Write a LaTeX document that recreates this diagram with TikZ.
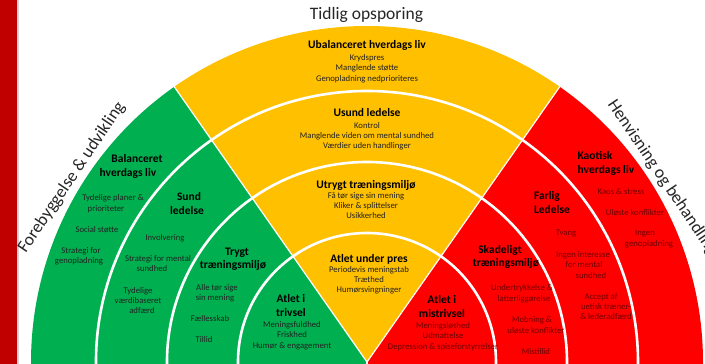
\documentclass[tikz,border=0pt]{standalone}
\usepackage{fontspec}
\setmainfont{Carlito}
\usetikzlibrary{calc,decorations.text}
\definecolor{grn}{HTML}{00B050}
\definecolor{yel}{HTML}{FFC000}
\definecolor{rd}{HTML}{FF0000}
\definecolor{barc}{HTML}{C00000}
\definecolor{detc}{HTML}{222222}
\definecolor{detr}{HTML}{6E0000}
\definecolor{sidec}{HTML}{262626}
\newcommand\sidefont{\fontsize{17.5}{20}\selectfont}
\tikzset{
  ttl/.style={font=\bfseries\fontsize{11.5}{13}\selectfont, anchor=base, inner sep=0pt, text=black},
  det/.style={font=\fontsize{8.7}{10}\selectfont, anchor=base, inner sep=0pt, text=detc},
  detr/.style={det, text=detr},
  side/.style={font=\sidefont, inner sep=0pt, text=sidec},
  sep/.style={white, line width=2.6pt},
  rad/.style={white, line width=1.2pt}
}
\newcommand\RTitle[4]{\node[ttl] (#1) at (#2,{360-#3}) {#4};}
\newcommand\RDet[4]{\node[det] (#1) at (#2,{361-#3}) {#4};}
\newcommand\RDetR[4]{\node[detr] (#1) at (#2,{361-#3}) {#4};}
\begin{document}
\begin{tikzpicture}[x=1pt,y=1pt]
\useasboundingbox (0,0) rectangle (705,364);
\clip (0,0) rectangle (705,364);
\fill[white] (0,0) rectangle (705,364);
\fill[barc] (0,0) rectangle (16.5,364);
\draw[gray!35, line width=1.5pt] (18.2,0) -- (18.2,364);
\coordinate (C) at (367,2);
% sectors
\fill[grn] (31,0) rectangle (367,2.5);
\fill[rd] (367,0) rectangle (703,2.5);
\fill[grn] (C) -- ($(C)+(182:336)$) arc[start angle=182,end angle=125,radius=336] -- cycle;
\fill[yel] (C) -- ($(C)+(125:336)$) arc[start angle=125,end angle=55,radius=336] -- cycle;
\fill[rd] (C) -- ($(C)+(55:336)$) arc[start angle=55,end angle=-2,radius=336] -- cycle;
\foreach \r in {271,200,129}{
  \draw[sep] ($(C)+(182:\r)$) arc[start angle=182,end angle=-2,radius=\r];
}
\draw[rad] (C) -- ($(C)+(125:337)$);
\draw[rad] (C) -- ($(C)+(55:337)$);
\draw[rad] (C) -- (367,0);
% headings
\node[side, anchor=base] (tit) at (366.5,344) {Tidlig opsporing};
\coordinate (la) at (19.6,101.0);
\coordinate (lb) at (131.4,266.8);
\coordinate (ra) at (602.6,266.8);
\coordinate (rb) at (714.4,101.0);
\path[decorate, decoration={text along path, text align=center, text color=sidec,
  text={|\sidefont|Forebyggelse {\&} udvikling}}] (la) -- (lb);
\path[decorate, decoration={text along path, text align=center, text color=sidec,
  text={|\sidefont|Henvisning og behandling}}] (ra) -- (rb);
% yellow
\RTitle{y1}{367}{45}{Ubalanceret hverdags liv}
\RDet{y1a}{367}{58}{Krydspres}
\RDet{y1b}{367}{68}{Manglende støtte}
\RDet{y1c}{367}{79}{Genopladning nedprioriteres}
\RTitle{y2}{367}{113}{Usund ledelse}
\RDet{y2a}{367}{126}{Kontrol}
\RDet{y2b}{367}{136}{Manglende viden om mental sundhed}
\RDet{y2c}{367}{146}{Værdier uden handlinger}
\RTitle{y3}{366}{185}{Utrygt træningsmiljø}
\RDet{y3a}{366}{196}{Få tør sige sin mening}
\RDet{y3b}{366}{206}{Kliker \& splittelser}
\RDet{y3c}{366}{216}{Usikkerhed}
\RTitle{y4}{369}{259}{Atlet under pres}
\RDet{y4a}{369}{270}{Periodevis meningstab}
\RDet{y4b}{369}{280}{Træthed}
\RDet{y4c}{369}{290}{Humørsvingninger}
% green
\RTitle{g4}{291}{299}{Atlet i}
\RTitle{g4t}{291}{313}{trivsel}
\RDet{g4a}{292}{325}{Meningsfuldhed}
\RDet{g4b}{292}{335}{Friskhed}
\RDet{g4c}{292}{346}{Humør \& engagement}
\RTitle{g3}{237}{252}{Trygt}
\RTitle{g3t}{233}{265}{træningsmiljø}
\RDet{g3a}{217}{288}{Alle tør sige}
\RDet{g3b}{215}{298}{sin mening}
\RDet{g3c}{210}{319}{Fællesskab}
\RDet{g3d}{204}{340}{Tillid}
\RTitle{g2}{189}{197}{Sund}
\RTitle{g2t}{187}{211}{ledelse}
\RDet{g2a}{165}{238}{Involvering}
\RDet{g2b}{158}{259}{Strategi for mental}
\RDet{g2c}{152}{269}{sundhed}
\RDet{g2d}{138}{291}{Tydelige}
\RDet{g2e}{138}{301}{værdibaseret}
\RDet{g2f}{142}{311}{adfærd}
\RTitle{g1}{137}{159}{Balanceret}
\RTitle{g1t}{128}{173}{hverdags liv}
\RDet{g1a}{113}{198}{Tydelige planer \&}
\RDet{g1b}{106}{209}{prioriteter}
\RDet{g1c}{97}{230}{Social støtte}
\RDet{g1d}{81}{251}{Strategi for}
\RDet{g1e}{79}{261}{genopladning}
% red
\RTitle{r4}{442}{300}{Atlet i}
\RTitle{r4t}{442}{314}{mistrivsel}
\RDetR{r4a}{443}{326}{Meningsløshed}
\RDetR{r4b}{443}{336}{Udmattelse}
\RDetR{r4c}{443}{347}{Depression \& spiseforstyrrelser}
\RTitle{r3}{500}{250}{Skadeligt}
\RTitle{r3t}{506}{263}{træningsmiljø}
\RDetR{r3a}{522}{288}{Undertrykkelse \&}
\RDetR{r3b}{524}{299}{latterliggørelse}
\RDetR{r3c}{532}{320}{Mobning \&}
\RDetR{r3d}{536}{331}{uløste konflikter}
\RDetR{r3e}{536}{352}{Mistillid}
\RTitle{r2}{547}{196}{Farlig}
\RTitle{r2t}{552}{210}{Ledelse}
\RDetR{r2a}{566}{233}{Tvang}
\RDetR{r2b}{583}{255}{Ingen interesse}
\RDetR{r2c}{584}{265}{for mental}
\RDetR{r2d}{591}{276}{sundhed}
\RDetR{r2e}{601}{297}{Accept af}
\RDetR{r2f}{606}{307}{uetisk træner-}
\RDetR{r2g}{606}{317}{\& lederadfærd}
\RTitle{r1}{595}{156}{Kaotisk}
\RTitle{r1t}{606}{170}{hverdags liv}
\RDetR{r1a}{621}{192}{Kaos \& stress}
\RDetR{r1b}{635}{213}{Uløste konflikter}
\RDetR{r1c}{645}{233}{Ingen}
\RDetR{r1d}{649}{244}{genopladning}
\end{tikzpicture}
\end{document}
